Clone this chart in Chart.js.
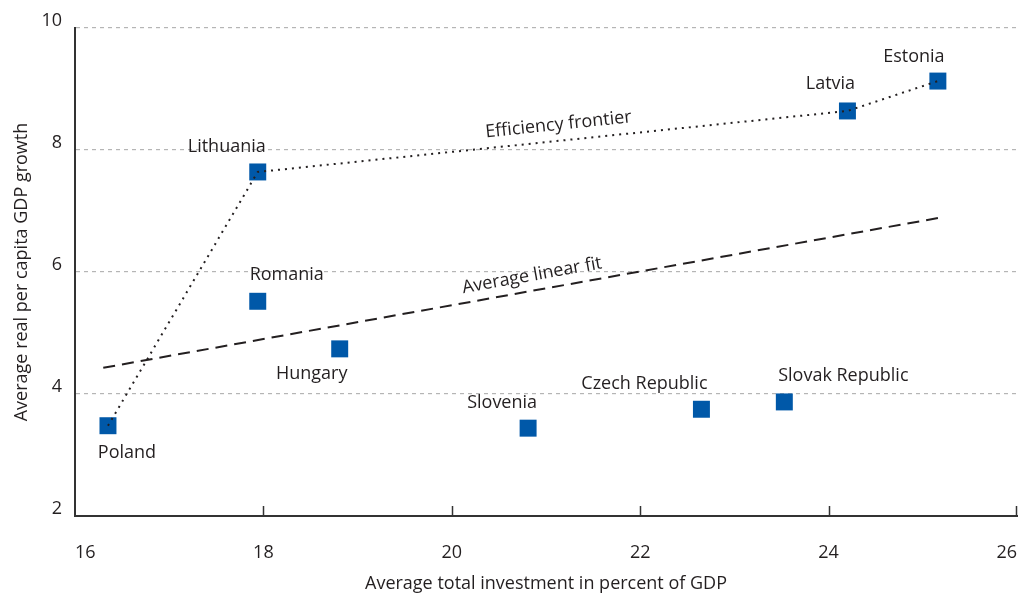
<!DOCTYPE html>
<html>
<head>
<meta charset="utf-8">
<script src="https://cdn.jsdelivr.net/npm/chart.js@4.4.1/dist/chart.umd.min.js"></script>
<style>
  html, body { margin: 0; padding: 0; background: #fff; }
  #wrap { width: 1021px; height: 595px; }
</style>
</head>
<body>
<div id="wrap"><canvas id="chart" width="1021" height="595"></canvas></div>
<script>
// ── data ────────────────────────────────────────────────
const countries  = ['Poland', 'Lithuania', 'Romania', 'Hungary', 'Slovenia', 'Czech Republic', 'Slovak Republic', 'Latvia', 'Estonia'];
const investment = [16.35, 17.94, 17.94, 18.81, 20.81, 22.65, 23.53, 24.20, 25.16];
const growth     = [3.48, 7.64, 5.52, 4.74, 3.44, 3.75, 3.87, 8.64, 9.13];

const frontierCountries = ['Poland', 'Lithuania', 'Latvia', 'Estonia'];

const fitX = [16.3, 25.18];
const fitY = [4.43, 6.89];

const xTicks = [16, 18, 20, 22, 24, 26];
const yTicks = [2, 4, 6, 8, 10];

// ── label placement (pixel offsets from marker) ─────────
const labelOffsets = {
  'Poland':          [19, 27],
  'Lithuania':       [-31, -25],
  'Romania':         [29, -26],
  'Hungary':         [-28, 25],
  'Slovenia':        [-26, -25],
  'Czech Republic':  [-57, -25],
  'Slovak Republic': [59, -26],
  'Latvia':          [-17, -27],
  'Estonia':         [-24, -24]
};

const FONT = '"Open Sans", "Noto Sans", sans-serif';
const FSIZE = 18;
const TEXT = '#231f20';
const BLUE = '#0058a8';

const points   = countries.map((c, i) => ({ x: investment[i], y: growth[i] }));
const frontier = frontierCountries.map(c => points[countries.indexOf(c)]);
const fitLine  = fitX.map((x, i) => ({ x, y: fitY[i] }));

// ── custom drawing: labels, inside ticks ───────────────
const annotate = {
  id: 'annotate',
  afterDatasetsDraw(chart) {
    const { ctx, scales: { x, y } } = chart;
    ctx.save();
    ctx.fillStyle = TEXT;
    ctx.font = FSIZE + 'px ' + FONT;
    ctx.textAlign = 'center';
    ctx.textBaseline = 'middle';
    countries.forEach((c, i) => {
      const [dx, dy] = labelOffsets[c];
      ctx.fillText(c, x.getPixelForValue(investment[i]) + dx, y.getPixelForValue(growth[i]) + dy);
    });

    // rotated line labels
    const lineLabel = (text, a, b, xv, lift) => {
      const ax = x.getPixelForValue(a.x), ay = y.getPixelForValue(a.y);
      const bx = x.getPixelForValue(b.x), by = y.getPixelForValue(b.y);
      const ang = Math.atan2(by - ay, bx - ax);
      const px = x.getPixelForValue(xv);
      const py = ay + (by - ay) * (px - ax) / (bx - ax);
      ctx.save();
      ctx.translate(px + Math.sin(ang) * lift, py - Math.cos(ang) * lift);
      ctx.rotate(ang);
      ctx.fillText(text, 0, 0);
      ctx.restore();
    };
    lineLabel('Efficiency frontier', frontier[1], frontier[2], 21.15, 16);
    lineLabel('Average linear fit', fitLine[0], fitLine[1], 20.88, 15);

    // tick marks pointing into the plot
    ctx.strokeStyle = '#333';
    ctx.lineWidth = 1.5;
    xTicks.slice(1).forEach(v => {
      const px = Math.min(Math.round(x.getPixelForValue(v)) + 0.5, x.right - 0.5);
      ctx.beginPath();
      ctx.moveTo(px, y.bottom);
      ctx.lineTo(px, y.bottom - 10);
      ctx.stroke();
    });
    ctx.restore();
  }
};

new Chart(document.getElementById('chart'), {
  type: 'scatter',
  data: {
    datasets: [
      {
        type: 'line', data: fitLine, borderColor: TEXT, borderWidth: 2,
        borderDash: [12, 7], pointRadius: 0, fill: false
      },
      {
        type: 'line', data: frontier, borderColor: TEXT, borderWidth: 2,
        borderDash: [2, 5], pointRadius: 0, fill: false, tension: 0
      },
      {
        data: points, pointStyle: 'rect', pointRadius: 12, pointHoverRadius: 12,
        backgroundColor: BLUE, borderWidth: 0
      }
    ]
  },
  options: {
    responsive: false,
    animation: false,
    layout: { autoPadding: false, padding: { top: 28, right: 4, left: 0, bottom: 0 } },
    plugins: { legend: { display: false }, tooltip: { enabled: false } },
    scales: {
      x: {
        type: 'linear', min: 16, max: 26,
        afterBuildTicks: s => { s.ticks = xTicks.map(v => ({ value: v })); },
        afterFit: s => { s.height = 79; s.paddingRight = 0; s.paddingLeft = 0; },
        grid: { display: false, drawTicks: false },
        border: { color: '#333', width: 2 },
        ticks: { padding: 26, align: 'inner', color: TEXT, font: { family: FONT, size: FSIZE } },
        title: {
          display: true, text: 'Average total investment in percent of GDP',
          color: TEXT, font: { family: FONT, size: FSIZE }, padding: { top: 0, bottom: 0 }
        }
      },
      y: {
        type: 'linear', min: 2, max: 10,
        afterBuildTicks: s => { s.ticks = yTicks.map(v => ({ value: v })); },
        afterFit: s => { s.width = 75; s.paddingTop = 0; s.paddingBottom = 0; },
        grid: {
          drawTicks: false, color: ctx => ctx.tick.value === 2 ? 'rgba(0,0,0,0)' : '#b5b5b5',
          lineWidth: 1.2
        },
        border: { color: '#333', width: 2, dash: [4, 4] },
        ticks: { padding: 13, labelOffset: -7, color: TEXT, font: { family: FONT, size: FSIZE } },
        title: {
          display: true, text: 'Average real per capita GDP growth',
          color: TEXT, font: { family: FONT, size: FSIZE }, padding: { top: 11, bottom: 4 }
        }
      }
    }
  },
  plugins: [annotate]
});
</script>
</body>
</html>
